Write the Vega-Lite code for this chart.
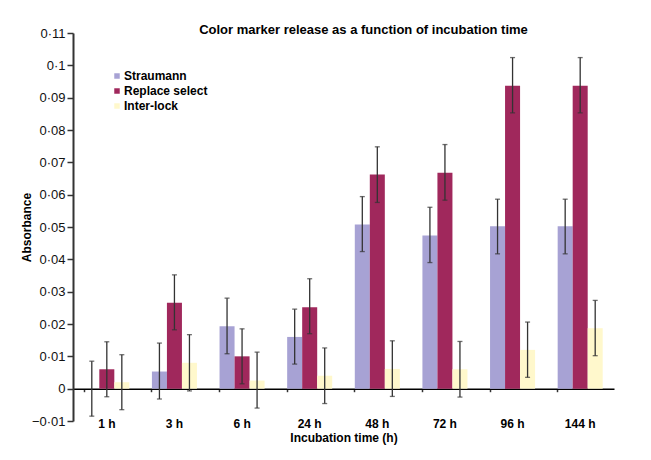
{
  "$schema": "https://vega.github.io/schema/vega-lite/v6.json",
  "width": 541,
  "height": 388,
  "autosize": {"type": "none"},
  "padding": {"left": 73, "top": 33, "right": 37, "bottom": 39},
  "background": "white",
  "title": {
    "text": "Color marker release as a function of incubation time",
    "font": "Liberation Sans",
    "fontSize": 13,
    "fontWeight": "bold",
    "color": "#000000",
    "anchor": "middle",
    "frame": "group",
    "dx": 20,
    "offset": -10
  },
  "config": {
    "view": {"stroke": null},
    "font": "Liberation Sans"
  },
  "data": {
    "values": [
      {"time": "1 h", "product": "Straumann", "mean": 0.0, "lo": -0.0085, "hi": 0.0085},
      {"time": "1 h", "product": "Replace select", "mean": 0.006, "lo": -0.0025, "hi": 0.0145},
      {"time": "1 h", "product": "Inter-lock", "mean": 0.002, "lo": -0.0065, "hi": 0.0105},
      {"time": "3 h", "product": "Straumann", "mean": 0.0053, "lo": -0.0032, "hi": 0.0141},
      {"time": "3 h", "product": "Replace select", "mean": 0.0266, "lo": 0.0182, "hi": 0.0352},
      {"time": "3 h", "product": "Inter-lock", "mean": 0.008, "lo": -0.0007, "hi": 0.0167},
      {"time": "6 h", "product": "Straumann", "mean": 0.0193, "lo": 0.0108, "hi": 0.028},
      {"time": "6 h", "product": "Replace select", "mean": 0.01, "lo": 0.0015, "hi": 0.0185},
      {"time": "6 h", "product": "Inter-lock", "mean": 0.0025, "lo": -0.006, "hi": 0.0113},
      {"time": "24 h", "product": "Straumann", "mean": 0.016, "lo": 0.0076, "hi": 0.0246},
      {"time": "24 h", "product": "Replace select", "mean": 0.0252, "lo": 0.017, "hi": 0.034},
      {"time": "24 h", "product": "Inter-lock", "mean": 0.004, "lo": -0.0046, "hi": 0.0126},
      {"time": "48 h", "product": "Straumann", "mean": 0.0508, "lo": 0.0424, "hi": 0.0594},
      {"time": "48 h", "product": "Replace select", "mean": 0.0662, "lo": 0.0576, "hi": 0.0748},
      {"time": "48 h", "product": "Inter-lock", "mean": 0.0061, "lo": -0.0024, "hi": 0.0148},
      {"time": "72 h", "product": "Straumann", "mean": 0.0474, "lo": 0.039, "hi": 0.0561},
      {"time": "72 h", "product": "Replace select", "mean": 0.0668, "lo": 0.0583, "hi": 0.0755},
      {"time": "72 h", "product": "Inter-lock", "mean": 0.006, "lo": -0.0026, "hi": 0.0146},
      {"time": "96 h", "product": "Straumann", "mean": 0.0502, "lo": 0.0417, "hi": 0.0586},
      {"time": "96 h", "product": "Replace select", "mean": 0.0937, "lo": 0.0853, "hi": 0.1024},
      {"time": "96 h", "product": "Inter-lock", "mean": 0.012, "lo": 0.0035, "hi": 0.0206},
      {"time": "144 h", "product": "Straumann", "mean": 0.0502, "lo": 0.0417, "hi": 0.0586},
      {"time": "144 h", "product": "Replace select", "mean": 0.0937, "lo": 0.0853, "hi": 0.1024},
      {"time": "144 h", "product": "Inter-lock", "mean": 0.0187, "lo": 0.0102, "hi": 0.0273}
    ]
  },
  "encoding": {
    "x": {
      "field": "time",
      "type": "nominal",
      "sort": ["1 h", "3 h", "6 h", "24 h", "48 h", "72 h", "96 h", "144 h"],
      "scale": {"paddingInner": 0.334, "paddingOuter": 0.167},
      "title": "Incubation time (h)",
      "axis": {
        "orient": "bottom",
        "offset": -32.3,
        "bandPosition": 0,
        "domainColor": "#000000",
        "domainWidth": 1.5,
        "ticks": true,
        "tickSize": 3,
        "tickColor": "#333333",
        "tickWidth": 1.5,
        "labelPadding": 27,
        "labelAngle": 0,
        "labelFont": "Liberation Sans",
        "labelFontSize": 12,
        "labelFontWeight": "bold",
        "labelColor": "#000000",
        "titleFont": "Liberation Sans",
        "titleFontSize": 12,
        "titleFontWeight": "bold",
        "titleColor": "#000000",
        "titlePadding": 3
      }
    },
    "xOffset": {
      "field": "product",
      "type": "nominal",
      "sort": ["Straumann", "Replace select", "Inter-lock"]
    },
    "y": {
      "type": "quantitative",
      "title": "Absorbance",
      "scale": {"domain": [-0.01, 0.11], "nice": false},
      "axis": {
        "tickCount": 12,
        "labelExpr": "replace(format(datum.value, '~g'), '.', '·')",
        "labelOverlap": false,
        "grid": false,
        "domainColor": "#333333",
        "domainWidth": 2,
        "tickColor": "#333333",
        "tickWidth": 1.5,
        "tickSize": 6,
        "labelFont": "Liberation Sans",
        "labelFontSize": 13,
        "labelColor": "#111111",
        "labelPadding": 2,
        "titleFont": "Liberation Sans",
        "titleFontSize": 12,
        "titleFontWeight": "bold",
        "titleColor": "#000000",
        "titlePadding": -2
      }
    }
  },
  "layer": [
    {
      "mark": {"type": "bar"},
      "encoding": {
        "y": {"field": "mean"},
        "color": {
          "field": "product",
          "type": "nominal",
          "scale": {
            "domain": ["Straumann", "Replace select", "Inter-lock"],
            "range": ["#a7a2d4", "#a0285c", "#fff8cc"]
          },
          "legend": {
            "title": null,
            "orient": "none",
            "legendX": 38,
            "legendY": 37,
            "symbolType": "square",
            "symbolSize": 30,
            "symbolStrokeWidth": 0,
            "labelFont": "Liberation Sans",
            "labelFontSize": 12,
            "labelFontWeight": "bold",
            "labelColor": "#000000",
            "rowPadding": 3,
            "labelOffset": 1
          }
        }
      }
    },
    {
      "mark": {"type": "rule", "color": "#333333", "strokeWidth": 1.3},
      "encoding": {
        "y": {"field": "lo"},
        "y2": {"field": "hi"}
      }
    },
    {
      "mark": {"type": "tick", "color": "#333333", "size": 5, "thickness": 1.3},
      "encoding": {
        "y": {"field": "lo"}
      }
    },
    {
      "mark": {"type": "tick", "color": "#333333", "size": 5, "thickness": 1.3},
      "encoding": {
        "y": {"field": "hi"}
      }
    }
  ]
}
